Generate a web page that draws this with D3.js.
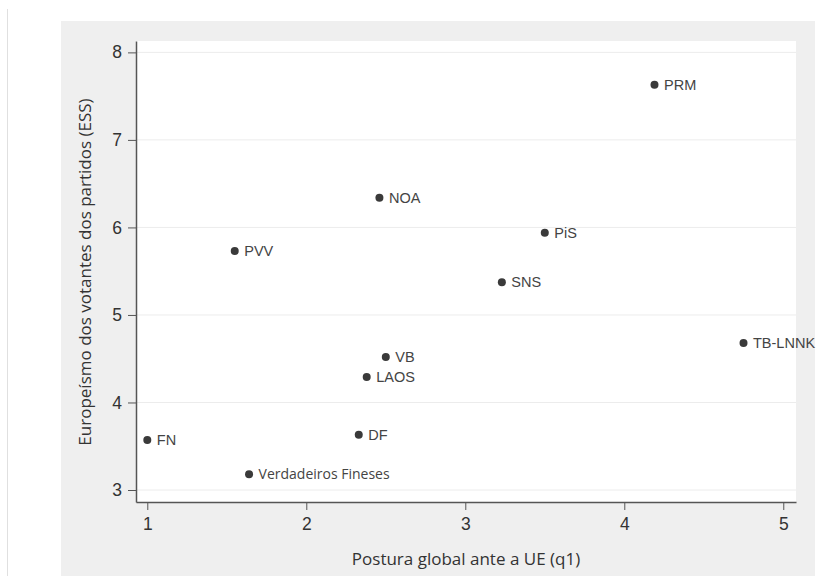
<!DOCTYPE html>
<html><head><meta charset="utf-8">
<script src="https://cdn.jsdelivr.net/npm/d3@7"></script>
<style>body{margin:0;background:#fff}svg{display:block}</style>
</head><body>
<script>
const parties = ["PRM","NOA","PVV","PiS","SNS","TB-LNNK","VB","LAOS","DF","FN","Verdadeiros Fineses"];
const postura = [4.19,2.46,1.55,3.50,3.23,4.75,2.50,2.38,2.33,1.00,1.64];
const europeismo = [7.63,6.34,5.73,5.94,5.375,4.68,4.52,4.29,3.63,3.57,3.18];
const xTicks = [1,2,3,4,5];
const yTicks = [3,4,5,6,7,8];
const xTitle = "Postura global ante a UE (q1)";
const yTitle = "Europeísmo dos votantes dos partidos (ESS)";

const W=819,H=576;
const svg=d3.select("body").append("svg").attr("width",W).attr("height",H);
svg.append("line").attr("x1",7.5).attr("x2",7.5).attr("y1",9).attr("y2",H).attr("stroke","#e0e0e0");
svg.append("rect").attr("x",61).attr("y",21).attr("width",754).attr("height",H-21).attr("fill","#efefef");
const L=136,R=796,T=41,B=502;
svg.append("rect").attr("x",L).attr("y",T).attr("width",R-L).attr("height",B-T).attr("fill","#fff");
const x=d3.scaleLinear().domain([0.929,5.08]).range([L,R]);
const y=d3.scaleLinear().domain([2.863,8.13]).range([B,T]);
// gridlines
svg.append("g").selectAll("line").data(yTicks).join("line")
 .attr("x1",L).attr("x2",R).attr("y1",d=>y(d)).attr("y2",d=>y(d)).attr("stroke","#ececec").attr("stroke-width",1);
const ax=svg.append("g").attr("transform",`translate(0,${B})`).call(d3.axisBottom(x).tickValues(xTicks).tickSize(8).tickSizeOuter(0).tickPadding(8).tickFormat(d3.format("d")));
const ay=svg.append("g").attr("transform",`translate(${L},0)`).call(d3.axisLeft(y).tickValues(yTicks).tickSize(8).tickSizeOuter(0).tickPadding(6).tickFormat(d3.format("d")));
[ax,ay].forEach(a=>{a.selectAll("path").attr("stroke","#555").attr("stroke-width",1.5);a.selectAll("line").attr("stroke","#555");a.selectAll("text").attr("font-family","Liberation Sans, Arial, sans-serif").attr("font-size",17.5).attr("fill","#333");});
svg.append("text").attr("x",(L+R)/2+0).attr("y",565).attr("text-anchor","middle").attr("font-family","Open Sans, sans-serif").attr("font-size",17).attr("fill","#333").text(xTitle);
svg.append("text").attr("transform",`translate(91,272) rotate(-90)`).attr("text-anchor","middle").attr("font-family","Open Sans, sans-serif").attr("font-size",17).attr("fill","#333").text(yTitle);
const data=parties.map((p,i)=>({p,x:postura[i],y:europeismo[i]}));
const g=svg.append("g");
g.selectAll("circle").data(data).join("circle").attr("cx",d=>x(d.x)).attr("cy",d=>y(d.y)).attr("r",4).attr("fill","#3a3a3a");
g.selectAll("text").data(data).join("text").attr("x",d=>x(d.x)+9.5).attr("y",d=>y(d.y)).attr("dy","0.36em")
 .attr("font-family",d=>d.p==="Verdadeiros Fineses"?"Open Sans, sans-serif":"Liberation Sans, Arial, sans-serif")
 .attr("font-size",d=>d.p==="Verdadeiros Fineses"?14:14.5).attr("fill","#444").text(d=>d.p);
</script>
</body></html>
